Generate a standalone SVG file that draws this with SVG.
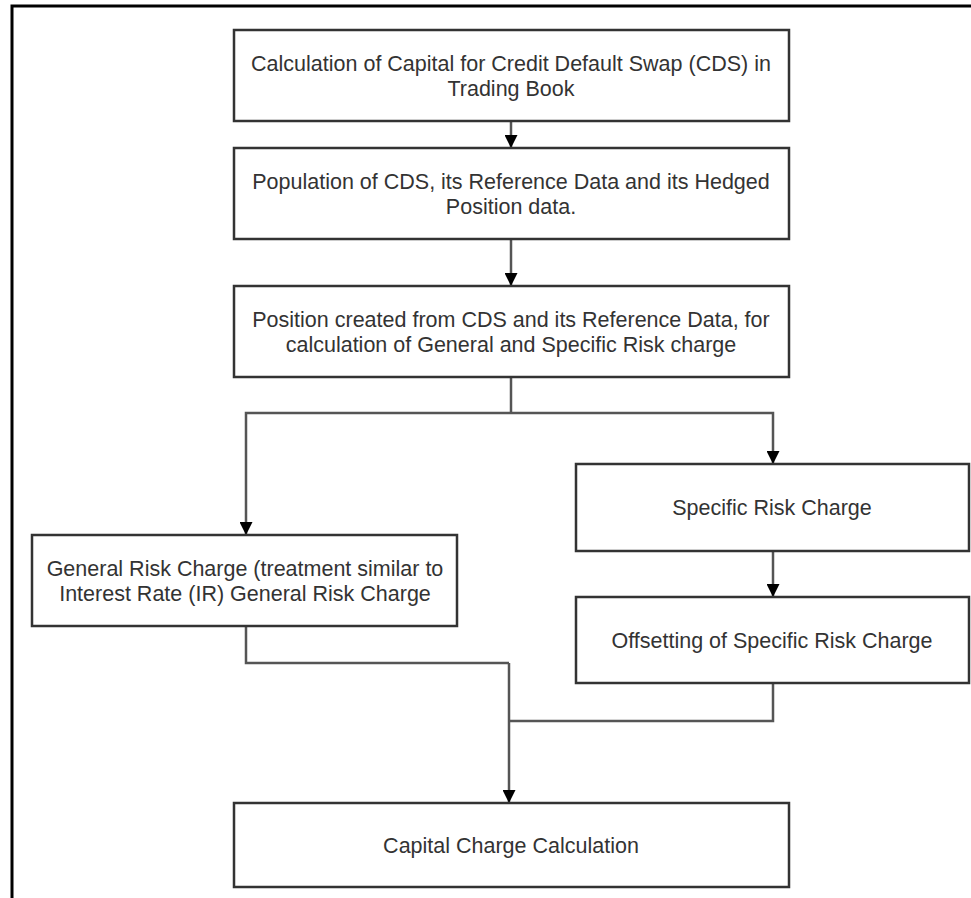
<svg xmlns="http://www.w3.org/2000/svg" width="971" height="898" viewBox="0 0 971 898">
<style>
.box{fill:#fff;stroke:#333;stroke-width:2.5}
.t{font-family:"Liberation Sans",Arial,sans-serif;font-size:21.5px;fill:#333;text-anchor:middle}
.c{fill:none;stroke:#555;stroke-width:2.5}
.frame{fill:none;stroke:#000;stroke-width:3}
</style>
<defs>
<marker id="ah" viewBox="0 0 10 10" refX="10" refY="5" markerWidth="13" markerHeight="13" markerUnits="userSpaceOnUse" orient="auto">
<path d="M0,0 L10,5 L0,10 z" fill="#000"/>
</marker>
</defs>
<rect width="971" height="898" fill="#fff"/>
<path class="frame" d="M12,898 V6 H971"/>
<g id="connectors">
<line class="c" x1="511" y1="121" x2="511" y2="148" marker-end="url(#ah)"/>
<line class="c" x1="511" y1="239" x2="511" y2="286" marker-end="url(#ah)"/>
<path class="c" d="M511,377 V413"/>
<path class="c" d="M511,413 H246 V535" marker-end="url(#ah)"/>
<path class="c" d="M511,413 H773 V464" marker-end="url(#ah)"/>
<line class="c" x1="773" y1="551" x2="773" y2="597" marker-end="url(#ah)"/>
<path class="c" d="M246,626 V663 H509"/>
<path class="c" d="M773,683 V721 H509"/>
<line class="c" x1="509" y1="663" x2="509" y2="803" marker-end="url(#ah)"/>
</g>
<g id="n1"><rect class="box" x="234" y="30" width="555" height="91"/>
<text class="t" x="511" y="71">Calculation of Capital for Credit Default Swap (CDS) in</text>
<text class="t" x="511" y="96">Trading Book</text></g>
<g id="n2"><rect class="box" x="234" y="148" width="555" height="91"/>
<text class="t" x="511" y="189">Population of CDS, its Reference Data and its Hedged</text>
<text class="t" x="511" y="214">Position data.</text></g>
<g id="n3"><rect class="box" x="234" y="286" width="555" height="91"/>
<text class="t" x="511" y="327">Position created from CDS and its Reference Data, for</text>
<text class="t" x="511" y="352">calculation of General and Specific Risk charge</text></g>
<g id="n4"><rect class="box" x="32" y="535" width="425" height="91"/>
<text class="t" x="245" y="576">General Risk Charge (treatment similar to</text>
<text class="t" x="245" y="601">Interest Rate (IR) General Risk Charge</text></g>
<g id="n5"><rect class="box" x="576" y="464" width="393" height="87"/>
<text class="t" x="772" y="515">Specific Risk Charge</text></g>
<g id="n6"><rect class="box" x="576" y="597" width="393" height="86"/>
<text class="t" x="772" y="648">Offsetting of Specific Risk Charge</text></g>
<g id="n7"><rect class="box" x="234" y="803" width="555" height="84"/>
<text class="t" x="511" y="853">Capital Charge Calculation</text></g>
</svg>
